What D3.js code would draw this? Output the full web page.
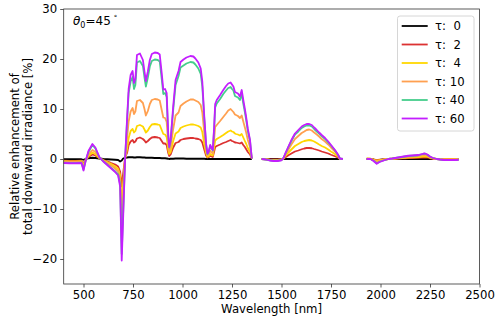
<!DOCTYPE html>
<html><head><meta charset="utf-8">
<script src="https://cdn.jsdelivr.net/npm/d3@7"></script>
<style>
html,body{margin:0;padding:0;background:#fff;}
svg text{font-family:"DejaVu Sans",sans-serif;}
</style></head>
<body><svg id="chart" width="500" height="321"></svg>
<script>
// ---- data ----
const wlSegments = [
 [400,430,460,490,500,510,525,545,560,580,
  600,620,640,660,675,685,693,700,710,720,
  728,738,748,755,762,770,785,800,808,815,
  825,835,845,860,875,885,895,903,912,920,
  928,933,940,953,965,980,990,1005,1020,1040,
  1055,1065,1080,1092,1100,1110,1119,1126,1133,1140,
  1147,1153,1160,1165,1173,1190,1206,1220,1231,1243,
  1250,1257,1265,1270,1280,1290,1299,1307,1315,1321,
  1330,1341,1350],
 [1400,1420,1440,1460,1480,1500,1510,1520,1535,1550,1568,1585,1602,1615,1627,1640,1653,1665,1678,1690,1703,1720,1736,1750,1770,1785,1795,1810],
 [1930,1950,1965,1981,1995,2010,2023,2040,2060,2075,2090,2110,2125,2140,2160,2175,2191,2205,2215,2225,2237,2250,2265,2284,2300,2320,2340,2360,2380,2395]
];

const tau0 = [
 [-0.05,-0.05,-0.05,-0.05,-0.15,0,0.15,0.25,0.2,0.1,
  0,-0.05,-0.1,-0.15,-0.2,-0.5,-0.3,0.1,0.25,0.3,
  0.35,0.35,0.35,0.3,0.3,0.35,0.35,0.3,0.3,0.25,
  0.25,0.25,0.25,0.2,0.2,0.2,0.15,0.15,0.15,0.1,
  0.05,0,0.05,0.05,0.1,0.1,0.1,0.1,0.05,0.05,
  0.05,0.05,0.05,0.05,0.05,0.05,0,0,0,0,
  0,0,0,0,0,0,0,0,0,0,
  0,0,0,0,0,0,0,0,0,0,
  0,0,0],
 [0,0,0,0,0,0,0,0,0,0,0,0,0,0,0,0,0,0,0,0,0,0,0,0,0,0,0,0],
 [0,0,-0.1,-0.4,-0.2,-0.1,-0.05,0,0,0,0,0,0,0,0,0,0,0,0,0,0,0,0,0,0,0,0,0,0,0]
];
const tau2 = [
 [-0.35,-0.4,-0.4,-0.35,-0.9,-0.2,0.4,0.9,0.7,0.15,
  -0.2,-0.45,-0.8,-1.1,-1.5,-2.5,-5.5,-3,0.3,1.2,
  2.8,3.5,3.8,3.3,3.5,4.1,4.3,4.0,3.7,3.3,
  3.6,4.0,4.3,4.4,4.3,4.2,3.6,3.1,3.1,2.8,
  1.2,0.6,0.9,2.3,3.2,3.4,3.8,4.0,4.1,4.2,
  4.2,4.1,4.0,3.8,3.3,1.9,0.7,0.3,0.4,0.6,
  0.5,0.4,1.5,2.4,2.6,2.9,3.2,3.4,3.6,3.8,
  3.6,3.5,3.3,3.3,3.2,3.1,3.3,2.8,2.4,2.0,
  1.4,0.9,0.05],
 [0,0,-0.1,-0.1,-0.1,-0.05,0.05,0.35,0.75,1.1,1.5,1.7,1.95,2.1,2.2,2.2,2.15,2.0,1.85,1.7,1.5,1.3,1.1,0.85,0.55,0.3,0.02,0],
 [0.05,0,-0.1,-0.25,-0.15,-0.1,0,0,0.05,0.05,0.1,0.15,0.15,0.2,0.2,0.25,0.25,0.3,0.3,0.35,0.3,0.15,0.05,0,0,0,0,0,0,0]
];
const tau4 = [
 [-0.45,-0.5,-0.5,-0.45,-1.2,-0.25,0.6,1.3,1.0,0.2,
  -0.25,-0.6,-1.0,-1.5,-2.0,-3.2,-9.5,-5,0,2.0,
  4.2,5.6,6.0,5.3,5.6,6.6,6.8,6.5,5.9,5.3,
  5.7,6.4,6.9,7.0,6.9,6.8,5.8,5.0,4.9,4.4,
  1.8,1.0,1.4,3.6,5.1,5.5,6.2,6.5,6.7,6.9,
  6.9,6.8,6.6,6.3,5.4,3.0,1.2,0.4,0.6,1.0,
  0.8,0.7,2.4,3.7,4.0,4.4,4.8,5.2,5.5,5.7,
  5.5,5.4,5.1,5.0,4.9,4.7,5.0,4.3,3.6,3.1,
  2.2,1.4,0.1],
 [0,-0.05,-0.15,-0.2,-0.2,-0.1,0.1,0.6,1.3,1.9,2.6,3.0,3.4,3.6,3.7,3.8,3.7,3.5,3.2,2.9,2.6,2.3,1.9,1.5,1.0,0.5,0.05,0],
 [0.05,0.05,-0.1,-0.35,-0.25,-0.15,-0.05,0,0.05,0.1,0.15,0.2,0.25,0.3,0.35,0.35,0.4,0.45,0.5,0.55,0.45,0.25,0.1,0,-0.05,-0.05,-0.05,-0.05,-0.05,0]
];
const tau10 = [
 [-0.55,-0.6,-0.6,-0.55,-1.6,-0.3,0.9,1.8,1.4,0.3,
  -0.3,-0.8,-1.3,-1.9,-2.5,-4.0,-13.0,-7,0,4.0,
  7.5,9.5,10.2,9.0,9.5,11.6,11.8,11.2,10.0,8.7,
  9.6,11.0,11.8,12.0,11.9,11.7,9.8,8.3,8.2,7.4,
  3.0,1.5,2.3,6.0,8.7,9.3,10.6,11.1,11.5,11.9,
  11.9,11.7,11.4,10.8,9.3,5.2,2.0,0.7,1.0,1.7,
  1.3,1.1,4.0,6.4,6.8,7.6,8.4,9.1,9.7,10.0,
  9.7,9.4,8.9,8.8,8.6,8.2,8.7,7.5,6.3,5.4,
  3.8,2.4,0.1],
 [0,-0.05,-0.2,-0.25,-0.25,-0.15,0.15,0.9,1.9,2.9,4.0,4.6,5.2,5.5,5.8,5.9,5.7,5.3,4.9,4.5,4.0,3.5,2.9,2.3,1.5,0.75,0.05,0],
 [0.05,0.05,-0.2,-0.55,-0.35,-0.2,-0.1,0,0.05,0.15,0.2,0.3,0.35,0.45,0.5,0.55,0.6,0.7,0.78,0.82,0.65,0.35,0.15,0,-0.05,-0.1,-0.1,-0.1,-0.1,-0.05]
];
const tau40 = [
 [-0.75,-0.8,-0.8,-0.75,-2.1,-0.5,1.4,2.8,2.1,0.35,
  -0.45,-1.1,-1.8,-2.5,-3.1,-5.0,-19.0,-11,0,7.5,
  13.2,15.5,16.4,14.0,14.8,19.3,19.6,18.6,16.3,14.5,
  16.3,18.5,19.6,19.9,19.8,19.5,16.0,13.0,13.2,12.4,
  4.7,2.3,3.6,9.8,14.8,16.6,18.3,18.7,19.1,19.4,
  19.3,18.9,18.1,17.0,14.5,8.0,2.9,1.0,1.5,2.6,
  2.1,1.7,6.1,10.3,11.1,12.0,13.0,13.7,14.2,14.4,
  14.0,13.7,12.6,12.5,12.3,11.8,13.0,11.1,9.4,8.0,
  5.6,3.6,0.1],
 [0,-0.1,-0.25,-0.35,-0.35,-0.2,0.2,1.1,2.4,3.6,4.9,5.5,6.2,6.5,6.7,6.7,6.5,6.0,5.5,5.1,4.6,4.0,3.3,2.7,1.7,0.85,0.1,0],
 [0,0,-0.35,-0.85,-0.55,-0.35,-0.2,0,0.1,0.2,0.3,0.4,0.5,0.6,0.65,0.7,0.75,0.9,1.0,1.05,0.85,0.45,0.2,0,-0.1,-0.2,-0.2,-0.2,-0.2,-0.15]
];
const tau60 = [
 [-0.8,-0.85,-0.85,-0.8,-2.3,-0.5,1.6,3.0,2.3,0.4,
  -0.5,-1.2,-1.9,-2.6,-3.3,-5.5,-20.3,-12,0,8,
  14,16.8,17.6,15.2,16,20.8,21.1,19.8,17.5,15.6,
  17.5,19.8,21.0,21.3,21.2,20.9,17.2,13.9,14.0,13.2,
  5.0,2.4,3.8,10.5,15.8,17.6,19.4,19.9,20.3,20.6,
  20.5,20.1,19.3,18.1,15.5,8.5,3.1,1.1,1.6,2.8,
  2.2,1.8,6.5,11.0,11.8,12.8,13.8,14.6,15.1,15.3,
  14.9,14.5,13.4,13.3,13.1,12.5,13.8,11.8,10.0,8.5,
  6.0,3.8,0.1],
 [0,-0.1,-0.3,-0.4,-0.4,-0.25,0.2,1.2,2.5,3.8,5.1,5.8,6.5,6.8,7.0,7.0,6.8,6.3,5.8,5.3,4.8,4.2,3.5,2.8,1.8,0.9,0.1,0],
 [0,0,-0.4,-0.95,-0.6,-0.4,-0.2,0.0,0.1,0.2,0.3,0.45,0.55,0.65,0.7,0.75,0.8,0.95,1.05,1.1,0.9,0.5,0.2,0.0,-0.1,-0.2,-0.2,-0.2,-0.2,-0.15]
];

const seriesNames = ["τ:  0","τ:  2","τ:  4","τ: 10","τ: 40","τ: 60"];
const seriesValues = [tau0, tau2, tau4, tau10, tau40, tau60];
const seriesColors = ["#000000","#dc3232","#ffd700","#ffa050","#46cd8c","#c31eff"];
const xTicks = [500,750,1000,1250,1500,1750,2000,2250,2500];
const yTicks = [-20,-10,0,10,20,30];

// ---- chart ----
const svg = d3.select("#chart");
const L = 63.7, R = 479.5, T = 9, B = 284;
const x = d3.scaleLinear().domain([400,2500]).range([L,R]);
const y = d3.scaleLinear().domain([-25,30]).range([B,T]);
const fs = 11.7;

const line = d3.line().x(d=>x(d[0])).y(d=>y(d[1]));
const g = svg.append("g");
seriesValues.forEach((segs,si)=>{
  segs.forEach((vals,k)=>{
    const pts = wlSegments[k].map((w,i)=>[w, vals[i]]);
    g.append("path").attr("d", line(pts))
      .attr("fill","none").attr("stroke",seriesColors[si])
      .attr("stroke-width",1.8).attr("stroke-linejoin","round");
  });
});

// axes
const xAxis = svg.append("g").attr("transform",`translate(0,${B})`)
  .call(d3.axisBottom(x).tickValues(xTicks).tickSize(3.5).tickPadding(3).tickFormat(d3.format("d")));
const yAxis = svg.append("g").attr("transform",`translate(${L},0)`)
  .call(d3.axisLeft(y).tickValues(yTicks).tickSize(3.5).tickPadding(3));
[xAxis,yAxis].forEach(a=>{
  a.select(".domain").remove();
  a.selectAll("line").attr("stroke","#333").attr("stroke-width",0.8);
  a.selectAll("text").attr("font-size",fs).attr("fill","#000").style("font-family","DejaVu Sans");
});
// frame
svg.append("rect").attr("x",L).attr("y",T).attr("width",R-L).attr("height",B-T)
  .attr("fill","none").attr("stroke","#333").attr("stroke-width",0.8);

// axis labels
svg.append("text").attr("x",(L+R)/2).attr("y",313).attr("text-anchor","middle")
  .attr("font-size",fs).text("Wavelength [nm]");
const yl = svg.append("text").attr("transform",`translate(19,${(T+B)/2}) rotate(-90)`)
  .attr("text-anchor","middle").attr("font-size",fs);
yl.append("tspan").attr("x",0).attr("y",0).text("Relative enhancement of");
yl.append("tspan").attr("x",0).attr("y",13.4).text("total downward irradiance [%]");

// annotation
const ann = svg.append("text").attr("x",73).attr("y",25).attr("font-size",fs+0.3);
ann.append("tspan").attr("font-style","italic").text("θ");
ann.append("tspan").attr("font-size",8).attr("dy",3).text("0");
ann.append("tspan").attr("dy",-3).text("=45");
ann.append("tspan").attr("font-size",7).attr("dx",3).attr("dy",-5).text("°");

// legend
const lg = svg.append("g");
lg.append("rect").attr("x",397.5).attr("y",16).attr("width",76.5).attr("height",115)
  .attr("rx",2.5).attr("fill","#fff").attr("fill-opacity",0.8)
  .attr("stroke","#cccccc").attr("stroke-width",0.8);
seriesNames.forEach((n,i)=>{
  const yy = 26 + i*18.5;
  lg.append("line").attr("x1",401.7).attr("x2",427.7).attr("y1",yy).attr("y2",yy)
    .attr("stroke",seriesColors[i]).attr("stroke-width",1.8);
  lg.append("text").attr("x",435).attr("y",yy+4).attr("font-size",fs)
    .style("white-space","pre").attr("xml:space","preserve").text(n);
});
</script></body></html>
